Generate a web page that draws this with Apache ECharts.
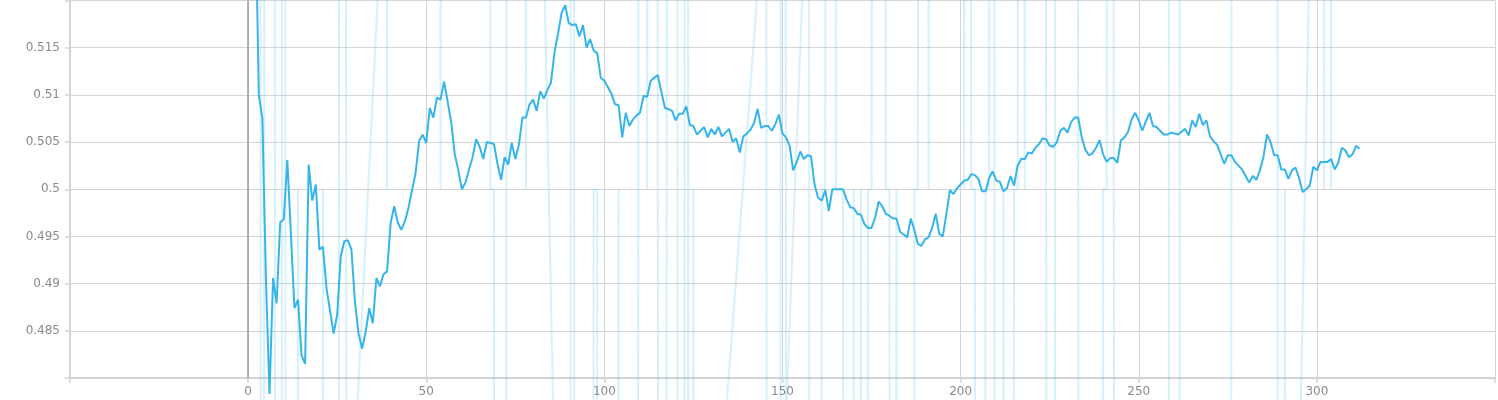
<!DOCTYPE html>
<html>
<head>
<meta charset="utf-8">
<script src="https://cdn.jsdelivr.net/npm/echarts@6/dist/echarts.min.js"></script>
<style>
html,body{margin:0;padding:0;background:#ffffff;}
#chart{width:1498px;height:400px;}
</style>
</head>
<body>
<div id="chart"></div>
<script>
// Smoothed series: one value per step, step = index (0..312)
const smoothedValues = [
0.6,0.55,0.531,0.5100,0.5075,0.4905,0.4783,0.4906,0.4879,0.4965,
0.4968,0.5031,0.4953,0.4874,0.4883,0.4824,0.4815,0.5026,0.4988,0.5005,
0.4936,0.4939,0.4895,0.4871,0.4847,0.4867,0.4929,0.4945,0.4946,0.4936,
0.4880,0.4847,0.4831,0.4849,0.4874,0.4858,0.4906,0.4897,0.4910,0.4913,
0.4964,0.4982,0.4965,0.4957,0.4966,0.4980,0.4999,0.5017,0.5051,0.5058,
0.5049,0.5086,0.5076,0.5097,0.5095,0.5114,0.5093,0.5071,0.5037,0.5020,
0.5000,0.5007,0.5021,0.5034,0.5053,0.5045,0.5032,0.5050,0.5049,0.5048,
0.5027,0.5010,0.5034,0.5026,0.5049,0.5032,0.5047,0.5076,0.5076,0.5090,
0.5095,0.5083,0.5104,0.5096,0.5105,0.5113,0.5145,0.5165,0.5187,0.5195,
0.5176,0.5174,0.5175,0.5162,0.5174,0.5150,0.5159,0.5147,0.5144,0.5118,
0.5115,0.5108,0.5101,0.5090,0.5089,0.5055,0.5081,0.5067,0.5074,0.5078,
0.5081,0.5099,0.5098,0.5115,0.5118,0.5121,0.5103,0.5086,0.5085,0.5083,
0.5073,0.5080,0.5080,0.5088,0.5068,0.5067,0.5058,0.5062,0.5066,0.5055,
0.5064,0.5058,0.5066,0.5056,0.5060,0.5064,0.5050,0.5054,0.5039,0.5056,
0.5059,0.5063,0.5070,0.5085,0.5065,0.5067,0.5067,0.5062,0.5069,0.5079,
0.5059,0.5055,0.5046,0.5020,0.5029,0.5040,0.5032,0.5036,0.5035,0.5005,
0.4991,0.4988,0.4999,0.4977,0.5000,0.5000,0.5000,0.5000,0.4989,0.4981,
0.4980,0.4974,0.4973,0.4963,0.4959,0.4959,0.4970,0.4987,0.4982,0.4974,
0.4972,0.4969,0.4969,0.4955,0.4952,0.4949,0.4969,0.4957,0.4942,0.4940,
0.4947,0.4949,0.4959,0.4974,0.4953,0.4950,0.4974,0.4999,0.4995,0.5001,
0.5005,0.5009,0.5010,0.5016,0.5015,0.5011,0.4998,0.4998,0.5012,0.5019,
0.5009,0.5008,0.4998,0.5001,0.5014,0.5004,0.5025,0.5032,0.5032,0.5039,
0.5038,0.5044,0.5048,0.5054,0.5053,0.5046,0.5045,0.5050,0.5062,0.5065,
0.5060,0.5071,0.5076,0.5076,0.5055,0.5042,0.5036,0.5038,0.5044,0.5052,
0.5037,0.5029,0.5033,0.5033,0.5028,0.5052,0.5055,0.5061,0.5074,0.5081,
0.5073,0.5062,0.5072,0.5081,0.5067,0.5066,0.5062,0.5058,0.5058,0.5060,
0.5059,0.5058,0.5061,0.5064,0.5057,0.5073,0.5066,0.5080,0.5068,0.5073,
0.5056,0.5051,0.5047,0.5037,0.5027,0.5036,0.5036,0.5029,0.5025,0.5021,
0.5014,0.5007,0.5014,0.5010,0.5020,0.5034,0.5058,0.5050,0.5036,0.5036,
0.5021,0.5021,0.5011,0.5020,0.5023,0.5012,0.4997,0.5000,0.5004,0.5024,
0.5020,0.5029,0.5029,0.5029,0.5032,0.5021,0.5028,0.5044,0.5041,0.5034,
0.5037,0.5046,0.5043
];

// Raw (unsmoothed) series: one value per step, null = no sample at that step
const rawValues = [
1,1,1,1,0,1,1,1,0,0,
1,0,0,0,0.5,0,0,0,0,0,
0,0.5,0,0,0,0,1,1,0,0,
0.472,null,null,null,null,null,null,0.525,1,0.5,
1,1,1,1,1,1,1,1,1,1,
1,1,1,1,0.5,1,1,1,1,1,
1,1,1,1,1,1,1,1,0.5,0.5,
0,0,0,1,1,1,1,1,0.5,1,
1,1,1,0.5255,null,null,0.47,0,0,0,
0,1,0,0,0,0,0,0.5,0.5,0,
0,0,0,0,0.5,0,0,0,0,0,
1,1,0.5,1,1,0.5,0,0,1,1,
1,0,0,1,0,0.5,0,0,0,0,
0,0,0,0,0.4755,null,null,null,null,null,
null,null,null,null,0.5261,1,0,0,0,0,
1,0.476,null,null,null,null,0.5248,1,0,0,
0,0.5,0.5,1,1,0.5,0.5,0.5,0,0,
0.5,0,0.5,0,0.5,0.5,1,1,1,0.5,
0.5,0,0.5,0,0,0,0,0.5,0.5,1,
1,0.5,1,1,1,1,1,1,1,1,
1,0.5,1,0.5,0.5,0,0,0.5,0.5,1,
0,0,0.5,0,0,0.5,0.5,1,0.5,1,
1,1,1,1,0.5,0,0,1,1,1,
1,1,1,0.5,0,0,0,0,0,0,
0.5,0.5,1,0.5,0,0,0,0,0,0,
0,0,0,0,0,0,0,0,0,1,
1,1,0,0,0,0,0,0,0,0,
0,0,0,0,0,0,0.5,1,1,1,
1,1,1,1,1,1,1,1,1,0.5,
0,0.5,0,0,0,0.4679,null,null,0.5258,1,
1,1,0.5,1,0.5,1,1,1,1,1,
1,1,1
];

const xTickLabels = ['0','50','100','150','200','250','300'];
const yTickLabels = ['0.485','0.49','0.495','0.5','0.505','0.51','0.515'];

const smoothedData = smoothedValues.map((v, i) => [i, v]);
const rawData = [];
rawValues.forEach((v, i) => { if (v !== null) rawData.push([i, v]); });

const lineColor = '#36b5ea';
const gridColor = '#d5d5d5';
const axisColor = '#d3d3d3';
const labelColor = '#8a8a8a';
const font = 'DejaVu Sans';

const chart = echarts.init(document.getElementById('chart'), null, {renderer: 'canvas'});
chart.setOption({
  animation: false,
  backgroundColor: '#ffffff',
  grid: {left: 70, right: 1, top: 0.5, bottom: 22, containLabel: false},
  xAxis: {
    type: 'value', min: -50, max: 350, interval: 50,
    axisLine: {show: true, onZero: false, lineStyle: {color: axisColor, width: 2}},
    axisTick: {show: true, length: 5, lineStyle: {color: axisColor, width: 1.5}},
    splitLine: {show: true, lineStyle: {color: gridColor, width: 1}},
    axisLabel: {
      color: labelColor, fontFamily: font, fontSize: 12, margin: 8,
      formatter: v => { const s = String(Math.round(v)); return xTickLabels.indexOf(s) >= 0 ? s : ''; }
    }
  },
  yAxis: {
    type: 'value', min: 0.48, max: 0.52, interval: 0.005,
    axisLine: {show: true, onZero: false, lineStyle: {color: axisColor, width: 2}},
    axisTick: {show: true, length: 5, lineStyle: {color: axisColor, width: 1.5}},
    splitLine: {show: true, lineStyle: {color: gridColor, width: 1}},
    axisLabel: {
      color: labelColor, fontFamily: font, fontSize: 12, margin: 10,
      formatter: v => { const s = String(+v.toFixed(3)); return yTickLabels.indexOf(s) >= 0 ? s : ''; }
    }
  },
  series: [
    {
      name: 'raw', type: 'line', data: rawData, showSymbol: false, symbol: 'none',
      clip: false, silent: true, z: 2,
      lineStyle: {color: lineColor, width: 2, opacity: 0.2}
    },
    {
      name: 'smoothed', type: 'line', data: smoothedData, showSymbol: false, symbol: 'none',
      clip: false, silent: true, z: 3,
      lineStyle: {color: lineColor, width: 2},
      markLine: {
        silent: true, symbol: ['none', 'none'], label: {show: false},
        lineStyle: {color: '#9a9a9a', width: 1.5, type: 'solid'},
        data: [{xAxis: 0}]
      }
    }
  ]
});
</script>
</body>
</html>
